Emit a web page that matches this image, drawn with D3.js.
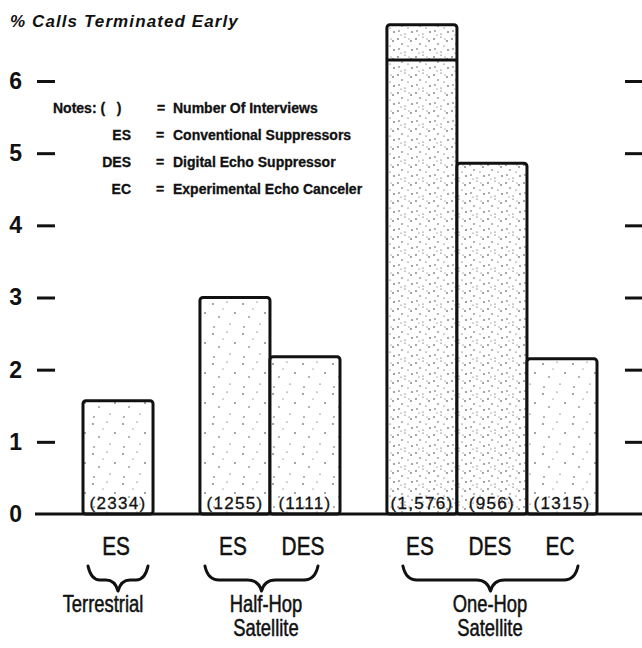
<!DOCTYPE html>
<html>
<head>
<meta charset="utf-8">
<script src="https://cdn.jsdelivr.net/npm/d3@7"></script>
<style>
  html, body { margin: 0; padding: 0; background: #fff; }
  svg { display: block; }
</style>
</head>
<body>
<svg id="chart" width="642" height="648"></svg>
<script>
// Early call termination by echo-control type and connection
const categories = ["ES", "ES", "DES", "ES", "DES", "EC"];
const groupNames = ["Terrestrial", "Half-Hop Satellite", "One-Hop Satellite"];
const groupOfBar = [0, 1, 1, 2, 2, 2];
const pctTerminated = [1.57, 3.0, 2.18, 6.78, 4.86, 2.15];
const interviews = ["(2334)", "(1255)", "(1111)", "(1,576)", "(956)", "(1315)"];
// level of the inner rule drawn across the one-hop ES bar
const innerRule = [null, null, null, 6.29, null, null];
const yTickValues = [0, 1, 2, 3, 4, 5, 6];
const noteKeys = ["ES", "DES", "EC"];
const noteMeanings = ["Conventional Suppressors", "Digital Echo Suppressor", "Experimental Echo Canceler"];
const noteHeader = ["Notes: (\u00a0\u00a0\u00a0)", "Number Of Interviews"];
const yTitle = "% Calls Terminated Early";

const svg = d3.select("#chart");
const ink = "#111";
const sans = "Liberation Sans, Arial, sans-serif";

// stipple fills
const defs = svg.append("defs");
function stipple(id, size, dots) {
  const p = defs.append("pattern").attr("id", id)
    .attr("patternUnits", "userSpaceOnUse").attr("width", size).attr("height", size);
  p.append("rect").attr("width", size).attr("height", size).attr("fill", "#fff");
  p.selectAll("circle").data(dots).join("circle")
    .attr("cx", d => d[0]).attr("cy", d => d[1]).attr("r", d => d[2]).attr("fill", "#333");
}
stipple("lightDots", 30, [[3,4,0.8],[17,2,0.6],[25,13,0.8],[9,17,0.7],[20,24,0.6],[4,27,0.7],[13,9,0.5]]);
stipple("denseDots", 18, [[2,3,0.8],[9,1,0.6],[15,5,0.8],[6,8,0.7],[12,10,0.6],[3,13,0.7],[16,14,0.8],[9,16,0.6],[13,3,0.5],[5,17,0.5]]);
const denseBars = [3, 4];

// scales
const y = d3.scaleLinear().domain([0, 6]).range([514, 81]);
const gapUnits = 0.67;
const slot = groupOfBar.map((g, i) => i + g * gapUnits);
const x = d3.scaleLinear().domain([0, categories.length + (groupNames.length - 1) * gapUnits]).range([83, 597]);
const barW = x(1) - x(0);

// condensed text helper: squeezes glyphs horizontally about the anchor point
function narrowText(parent, tx, ty, str, size, squeeze) {
  return parent.append("text")
    .attr("transform", `translate(${tx},${ty}) scale(${squeeze},1)`)
    .attr("text-anchor", "middle")
    .attr("font-family", sans).attr("font-size", size)
    .attr("fill", ink).attr("stroke", ink).attr("stroke-width", 0.5)
    .text(str);
}

// y-axis title
svg.append("text").attr("x", 10).attr("y", 27)
  .attr("font-family", sans)
  .attr("font-weight", "bold").attr("font-style", "italic")
  .attr("font-size", 17).attr("letter-spacing", 1.1).attr("fill", ink).text(yTitle);

// left axis: short dashes with bold numerals
const leftAxis = svg.append("g").attr("transform", "translate(55,0)")
  .call(d3.axisLeft(y).tickValues(yTickValues).tickSize(18).tickPadding(15).tickFormat(d3.format("d")));
leftAxis.select(".domain").remove();
leftAxis.selectAll(".tick line").attr("stroke", ink).attr("stroke-width", 3)
  .attr("opacity", d => d === 0 ? 0 : 1);
leftAxis.selectAll(".tick text").attr("fill", ink)
  .attr("font-family", sans)
  .attr("font-weight", "bold").attr("font-size", 23);

// right axis: dashes only
const rightAxis = svg.append("g").attr("transform", "translate(625,0)")
  .call(d3.axisRight(y).tickValues(yTickValues.filter(v => v > 0)).tickSize(17).tickFormat(""));
rightAxis.select(".domain").remove();
rightAxis.selectAll(".tick line").attr("stroke", ink).attr("stroke-width", 3);

// notes block
const notes = svg.append("g")
  .attr("font-family", sans)
  .attr("font-weight", "bold").attr("font-size", 14).attr("fill", ink)
  .attr("stroke", ink).attr("stroke-width", 0.3);
notes.append("text").attr("x", 53).attr("y", 113).text(noteHeader[0]);
notes.append("text").attr("x", 157).attr("y", 113).text("=");
notes.append("text").attr("x", 173).attr("y", 113).text(noteHeader[1]);
noteKeys.forEach((k, i) => {
  const yy = 140 + i * 27;
  notes.append("text").attr("x", 131).attr("y", yy).attr("text-anchor", "end").text(k);
  notes.append("text").attr("x", 156).attr("y", yy).text("=");
  notes.append("text").attr("x", 173).attr("y", yy).text(noteMeanings[i]);
});

// bars
const bars = svg.append("g");
bars.selectAll("rect").data(pctTerminated).join("rect")
  .attr("x", (d, i) => x(slot[i]))
  .attr("y", d => y(d))
  .attr("width", barW)
  .attr("height", d => y(0) - y(d))
  .attr("rx", 3)
  .attr("fill", (d, i) => denseBars.includes(i) ? "url(#denseDots)" : "url(#lightDots)")
  .attr("stroke", ink).attr("stroke-width", 3);

bars.selectAll("line.inner").data(innerRule.map((v, i) => ({ v, i })).filter(d => d.v !== null))
  .join("line").attr("class", "inner")
  .attr("x1", d => x(slot[d.i])).attr("x2", d => x(slot[d.i]) + barW)
  .attr("y1", d => y(d.v)).attr("y2", d => y(d.v))
  .attr("stroke", ink).attr("stroke-width", 3);

// interview counts at the foot of each bar
svg.append("g").selectAll("text").data(interviews).join("text")
  .attr("x", (d, i) => x(slot[i]) + barW / 2)
  .attr("y", 509)
  .attr("text-anchor", "middle")
  .attr("font-family", sans)
  .attr("font-size", 17).attr("letter-spacing", 1.3)
  .attr("fill", ink).attr("stroke", ink).attr("stroke-width", 0.3)
  .text(d => d);

// baseline
svg.append("line").attr("x1", 35).attr("x2", 642).attr("y1", y(0)).attr("y2", y(0))
  .attr("stroke", ink).attr("stroke-width", 3);

// category labels
const catLabels = svg.append("g");
categories.forEach((c, i) => narrowText(catLabels, x(slot[i]) + barW / 2 - 2, 555, c, 26, 0.8));

// braces and group names
const groupsExtent = groupNames.map((g, gi) => {
  const idx = groupOfBar.map((v, i) => v === gi ? i : -1).filter(i => i >= 0);
  return [x(slot[idx[0]]), x(slot[idx[idx.length - 1]]) + barW];
});

function bracePath(x1, x2, yTop, yFlat, yTip) {
  const xm = (x1 + x2) / 2;
  const q = Math.min(14, (x2 - x1) / 5);
  return `M${x1},${yTop} Q${x1 + 3},${yFlat} ${x1 + q},${yFlat} L${xm - q},${yFlat} Q${xm - 3},${yFlat} ${xm},${yTip}` +
         ` Q${xm + 3},${yFlat} ${xm + q},${yFlat} L${x2 - q},${yFlat} Q${x2 - 3},${yFlat} ${x2},${yTop}`;
}

// brace insets (left, right) under each group
const braceInset = [[5, 5], [5, 22], [16, 19]];
svg.append("g").selectAll("path").data(groupsExtent).join("path")
  .attr("d", (d, i) => bracePath(d[0] + braceInset[i][0], d[1] - braceInset[i][1], 566, 580, 591))
  .attr("fill", "none").attr("stroke", ink).attr("stroke-width", 3)
  .attr("stroke-linejoin", "round").attr("stroke-linecap", "round");

const groupLabels = svg.append("g");
const labelShift = [-15, -4, -2];
groupNames.forEach((name, gi) => {
  const cx = (groupsExtent[gi][0] + groupsExtent[gi][1]) / 2 + labelShift[gi];
  name.split(" ").forEach((w, k) => narrowText(groupLabels, cx, 612 + k * 24, w, 23, 0.8));
});
</script>
</body>
</html>
